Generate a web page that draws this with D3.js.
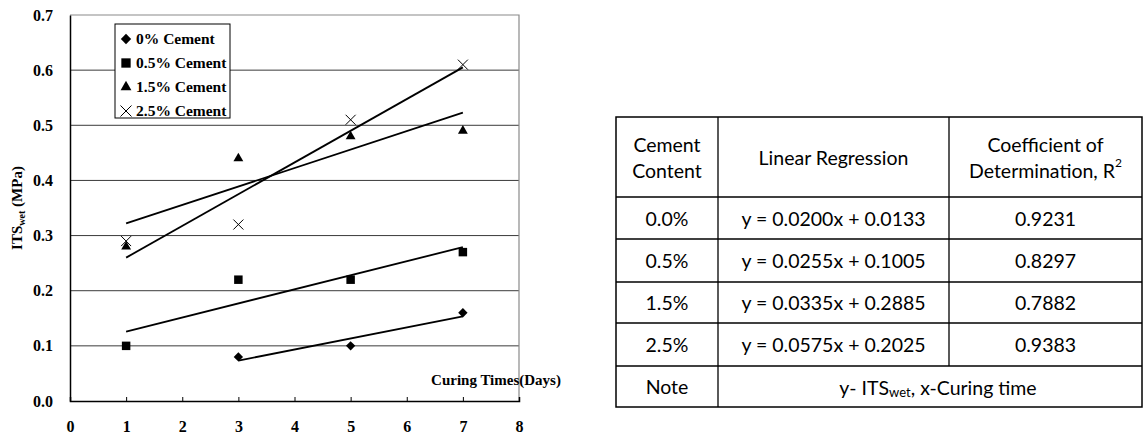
<!DOCTYPE html>
<html>
<head>
  <meta charset="utf-8">
  <title>ITS wet vs curing time</title>
  <style>
    body { margin: 0; background: #fff; }
    svg { display: block; }
  </style>
</head>
<body>
  <div id="chart"></div>
  <script src="https://cdn.jsdelivr.net/npm/d3@7"></script>
  <script>

    function translate(x, y) {
      return 'translate(' + x + ', ' + y + ')';
    }

    // data
    let seriesNames = ['0% Cement', '0.5% Cement', '1.5% Cement', '2.5% Cement'];
    let symbols = ['diamond', 'square', 'triangle', 'cross'];
    let days0 = [3, 5, 7];
    let its0 = [0.08, 0.10, 0.16];
    let days05 = [1, 3, 5, 7];
    let its05 = [0.10, 0.22, 0.22, 0.27];
    let days15 = [1, 3, 5, 7];
    let its15 = [0.28, 0.44, 0.48, 0.49];
    let days25 = [1, 3, 5, 7];
    let its25 = [0.29, 0.32, 0.51, 0.61];

    // regression table
    let cementContent = ['0.0%', '0.5%', '1.5%', '2.5%'];
    let slopes = [0.0200, 0.0255, 0.0335, 0.0575];
    let intercepts = [0.0133, 0.1005, 0.2885, 0.2025];
    let r2 = ['0.9231', '0.8297', '0.7882', '0.9383'];

    let xTicks = [0, 1, 2, 3, 4, 5, 6, 7, 8];
    let yTicks = [0, 0.1, 0.2, 0.3, 0.4, 0.5, 0.6, 0.7];

    let series = [
      {days: days0, its: its0},
      {days: days05, its: its05},
      {days: days15, its: its15},
      {days: days25, its: its25}
    ].map((s, i) => ({
      name: seriesNames[i],
      symbol: symbols[i],
      slope: slopes[i],
      intercept: intercepts[i],
      points: s.days.map((d, j) => ({x: d, y: s.its[j]}))
    }));

    let svgWidth = 1143;
    let svgHeight = 434;
    let margin = {top: 15, left: 70};
    let width = 449;
    let height = 386;

    let svg = d3.select('#chart')
      .append('svg')
        .attr('width', svgWidth)
        .attr('height', svgHeight);

    let serif = '"Liberation Serif", "Times New Roman", serif';
    let g = svg.append('g').attr('transform', translate(margin.left, margin.top));

    let x = d3.scaleLinear().domain([0, 8]).range([0, width]);
    let y = d3.scaleLinear().domain([0, 0.7]).range([height, 0]);

    // grid lines
    g.selectAll('.grid')
      .data(yTicks.slice(1, -1))
      .enter()
      .append('line')
        .attr('class', 'grid')
        .attr('x1', 0)
        .attr('x2', width)
        .attr('y1', d => y(d))
        .attr('y2', d => y(d))
        .attr('stroke', '#3a3a3a')
        .attr('stroke-width', 1);

    // top and right frame
    g.append('path')
      .attr('d', 'M0,' + y(0.7) + 'H' + width + 'V' + height)
      .attr('fill', 'none')
      .attr('stroke', '#8a8a8a')
      .attr('stroke-width', 1.2);

    // y axis
    let yAxis = d3.axisLeft(y)
      .tickValues(yTicks)
      .tickSize(0)
      .tickPadding(17)
      .tickFormat(d3.format('.1f'));
    let yg = g.append('g').call(yAxis);
    yg.select('.domain').attr('stroke', '#000').attr('stroke-width', 1.5);
    yg.selectAll('text')
      .style('font-family', serif)
      .style('font-weight', 'bold')
      .style('font-size', '16px')
      .attr('fill', '#000');

    // x axis, ticks point inward
    let xAxis = d3.axisBottom(x)
      .tickValues(xTicks)
      .tickSize(-4)
      .tickPadding(20)
      .tickFormat(d3.format('d'));
    let xg = g.append('g').attr('transform', translate(0, height)).call(xAxis);
    xg.select('.domain').attr('stroke', '#000').attr('stroke-width', 1.5);
    xg.selectAll('.tick line').attr('stroke', '#000');
    xg.selectAll('text')
      .style('font-family', serif)
      .style('font-weight', 'bold')
      .style('font-size', '16px')
      .attr('fill', '#000');

    // axis titles
    let yTitle = svg.append('text')
      .attr('transform', translate(22, margin.top + height / 2) + ' rotate(-90)')
      .attr('text-anchor', 'middle')
      .style('font-family', serif)
      .style('font-weight', 'bold')
      .style('font-size', '15px');
    yTitle.append('tspan').text('ITS');
    yTitle.append('tspan').attr('dy', 3).style('font-size', '10px').text('wet');
    yTitle.append('tspan').attr('dy', -3).text(' (MPa)');

    svg.append('text')
      .attr('x', 496)
      .attr('y', 385)
      .attr('text-anchor', 'middle')
      .style('font-family', serif)
      .style('font-weight', 'bold')
      .style('font-size', '15px')
      .text('Curing Times(Days)');

    // markers
    function marker(sel, type, scale) {
      let k = scale || 1;
      if (type === 'diamond') {
        sel.append('path')
          .attr('d', d3.symbol(d3.symbolSquare, 44 * k * k)())
          .attr('transform', 'rotate(45)')
          .attr('fill', '#000');
      } else if (type === 'square') {
        sel.append('path')
          .attr('d', d3.symbol(d3.symbolSquare, 72 * k * k)())
          .attr('fill', '#000');
      } else if (type === 'triangle') {
        sel.append('path')
          .attr('d', d3.symbol(d3.symbolTriangle, 42 * k * k)())
          .attr('fill', '#000');
      } else {
        let r = 5 * k;
        sel.append('path')
          .attr('d', 'M' + -r + ',' + -r + 'L' + r + ',' + r + 'M' + -r + ',' + r + 'L' + r + ',' + -r)
          .attr('stroke', '#000')
          .attr('stroke-width', 1)
          .attr('fill', 'none');
      }
    }

    // regression lines over each series' day range
    g.selectAll('.fit')
      .data(series)
      .enter()
      .append('line')
        .attr('class', 'fit')
        .attr('x1', d => x(d3.min(d.points, p => p.x)))
        .attr('x2', d => x(d3.max(d.points, p => p.x)))
        .attr('y1', d => y(d.slope * d3.min(d.points, p => p.x) + d.intercept))
        .attr('y2', d => y(d.slope * d3.max(d.points, p => p.x) + d.intercept))
        .attr('stroke', '#000')
        .attr('stroke-width', 1.8);

    series.forEach(s => {
      g.selectAll(null)
        .data(s.points)
        .enter()
        .append('g')
          .attr('transform', p => translate(x(p.x), y(p.y)))
          .each(function() { marker(d3.select(this), s.symbol); });
    });

    // legend
    let legend = svg.append('g').attr('transform', translate(115, 24));
    legend.append('rect')
      .attr('width', 115)
      .attr('height', 94)
      .attr('fill', '#fff')
      .attr('stroke', '#000')
      .attr('stroke-width', 1);
    let item = legend.selectAll('.item')
      .data(series)
      .enter()
      .append('g')
        .attr('class', 'item')
        .attr('transform', (d, i) => translate(11, 15 + i * 24));
    item.each(function(d) { marker(d3.select(this), d.symbol, 1.1); });
    item.append('text')
      .attr('x', 10)
      .attr('dy', '0.35em')
      .style('font-family', serif)
      .style('font-weight', 'bold')
      .style('font-size', '15.5px')
      .text(d => d.name);

    // regression table
    let sans = 'Lato, "Open Sans", sans-serif';
    let colX = [616, 718, 949, 1142];
    let rowY = [117, 197, 239, 282, 323, 366, 407];
    let tbl = svg.append('g');

    function cellText(cx, cy) {
      return tbl.append('text')
        .attr('x', cx)
        .attr('y', cy)
        .attr('text-anchor', 'middle')
        .attr('dominant-baseline', 'central')
        .style('font-family', sans)
        .style('font-size', '19.5px')
        .attr('fill', '#000');
    }

    tbl.append('rect')
      .attr('x', colX[0]).attr('y', rowY[0])
      .attr('width', colX[3] - colX[0]).attr('height', rowY[6] - rowY[0])
      .attr('fill', 'none').attr('stroke', '#000').attr('stroke-width', 1.5);
    tbl.selectAll('.hline')
      .data(rowY.slice(1, -1))
      .enter()
      .append('line')
        .attr('x1', colX[0]).attr('x2', colX[3])
        .attr('y1', d => d).attr('y2', d => d)
        .attr('stroke', '#000').attr('stroke-width', 1.3);
    tbl.append('line')
      .attr('x1', colX[1]).attr('x2', colX[1])
      .attr('y1', rowY[0]).attr('y2', rowY[6])
      .attr('stroke', '#000').attr('stroke-width', 1.3);
    tbl.append('line')
      .attr('x1', colX[2]).attr('x2', colX[2])
      .attr('y1', rowY[0]).attr('y2', rowY[5])
      .attr('stroke', '#000').attr('stroke-width', 1.3);

    function mid(a, b) { return (a + b) / 2; }

    // header
    let hy = mid(rowY[0], rowY[1]);
    cellText(mid(colX[0], colX[1]), hy - 13).text('Cement');
    cellText(mid(colX[0], colX[1]), hy + 13).text('Content');
    cellText(mid(colX[1], colX[2]), hy).text('Linear Regression');
    cellText(mid(colX[2], colX[3]), hy - 13).text('Coefficient of');
    let h3 = cellText(mid(colX[2], colX[3]), hy + 13);
    h3.append('tspan').text('Determination, R');
    h3.append('tspan').attr('dy', -8).style('font-size', '12px').text('2');

    cementContent.forEach((c, i) => {
      let cy = mid(rowY[i + 1], rowY[i + 2]);
      cellText(mid(colX[0], colX[1]), cy).text(c);
      cellText(mid(colX[1], colX[2]), cy)
        .text('y = ' + slopes[i].toFixed(4) + 'x + ' + intercepts[i].toFixed(4));
      cellText(mid(colX[2], colX[3]), cy).text(r2[i]);
    });

    let ny = mid(rowY[5], rowY[6]);
    cellText(mid(colX[0], colX[1]), ny).text('Note');
    let note = cellText(mid(colX[1], colX[3]) + 8, ny);
    note.append('tspan').text('y- ITS');
    note.append('tspan').attr('dy', 5).style('font-size', '13px').text('wet');
    note.append('tspan').attr('dy', -5).text(', x-Curing time');

  </script>
</body>
</html>
